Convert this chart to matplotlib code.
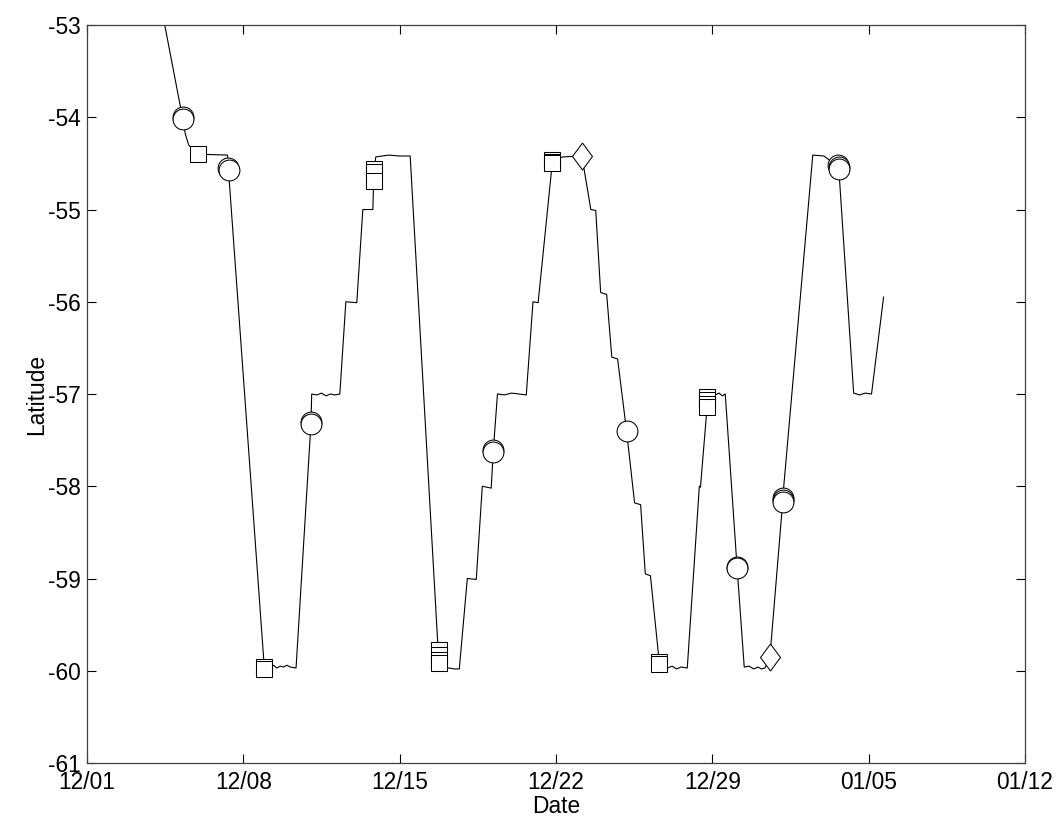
import matplotlib
matplotlib.use("Agg")
import matplotlib.pyplot as plt
import numpy as np

plt.rcParams['font.family'] = ['Liberation Sans', 'DejaVu Sans']
plt.rcParams['axes.unicode_minus'] = False

# ship track: days since 12/01 and latitude
track_day = [3.40, 4.28, 4.40, 4.55, 4.95, 6.29, 6.33, 7.94, 8.20, 8.35, 8.50, 8.65, 8.80, 8.95,
             9.10, 9.36, 10.03, 10.06, 10.30, 10.50, 10.70, 10.90, 11.10, 11.32, 11.59, 12.08,
             12.35, 12.80, 12.84, 12.93, 13.50, 14.00, 14.47, 15.74, 15.96, 16.20, 16.45, 16.67,
             17.03, 17.43, 17.70, 18.10, 18.19, 18.38, 18.70, 19.00, 19.35, 19.67, 19.97, 20.20,
             20.84, 21.30, 22.16, 22.56, 22.78, 23.00, 23.27, 23.50, 23.76, 24.16, 24.52, 24.79,
             25.00, 25.23, 25.63, 26.00, 26.20, 26.40, 26.60, 26.88, 27.42, 27.47, 27.78, 28.13,
             28.30, 28.45, 28.58, 29.11, 29.43, 29.65, 29.85, 30.05, 30.20, 30.36, 30.58, 31.16,
             31.20, 32.50, 33.00, 33.66, 34.33, 34.60, 34.85, 35.13, 35.67]
track_lat = [-52.90, -54.01, -54.18, -54.30, -54.40, -54.41, -54.56, -59.97, -59.96, -59.94,
             -59.97, -59.95, -59.96, -59.94, -59.96, -59.97, -57.31, -57.00, -57.01, -56.99,
             -57.02, -57.00, -57.01, -57.00, -56.00, -56.01, -55.00, -55.00, -54.62, -54.43,
             -54.41, -54.42, -54.42, -59.85, -59.98, -59.97, -59.98, -59.98, -59.00, -59.01,
             -58.00, -58.02, -57.62, -57.00, -57.01, -56.99, -57.00, -57.01, -56.00, -56.01,
             -54.48, -54.43, -54.42, -55.00, -55.01, -55.90, -55.92, -56.60, -56.62, -57.40,
             -58.18, -58.20, -58.95, -58.97, -59.92, -59.97, -59.95, -59.98, -59.96, -59.97,
             -58.00, -58.01, -57.10, -57.01, -56.99, -57.02, -57.00, -58.88, -59.96, -59.95,
             -59.98, -59.96, -59.98, -59.97, -59.85, -58.15, -58.00, -54.41, -54.42, -54.54,
             -56.99, -57.01, -56.99, -57.00, -55.95]

# stations by type (repeated casts at one station stack up)
circle_day = [4.28, 4.29, 6.33, 6.34, 10.03, 10.04, 18.19, 18.20, 24.16, 29.11, 29.12,
              31.16, 31.17, 31.18, 33.65, 33.66, 33.67]
circle_lat = [-54.00, -54.015, -54.55, -54.57, -57.30, -57.32, -57.61, -57.63, -57.40, -58.87,
              -58.89, -58.13, -58.15, -58.17, -54.52, -54.54, -54.56]
square_day = [4.95, 7.94, 7.94, 12.84, 12.84, 12.84, 15.74, 15.74, 15.74, 15.74, 20.84, 20.84,
              20.84, 25.63, 25.63, 27.78, 27.78, 27.78, 27.78]
square_lat = [-54.40, -59.96, -59.98, -54.56, -54.59, -54.69, -59.78, -59.83, -59.88, -59.92,
              -54.46, -54.48, -54.50, -59.90, -59.93, -57.03, -57.07, -57.11, -57.14]
diamond_day = [22.16, 30.58]
diamond_lat = [-54.42, -59.85]

tick_days = [0, 7, 14, 21, 28, 35, 42]
tick_labels = ['12/01', '12/08', '12/15', '12/22', '12/29', '01/05', '01/12']

fig = plt.figure(figsize=(10.55, 8.23), dpi=100)
ax = fig.add_axes([0.0825, 0.0729, 0.8890, 0.8967])

ax.plot(track_day, track_lat, color='k', lw=0.8, zorder=2)

mk = dict(linestyle='none', markerfacecolor='white', markeredgecolor='k',
          markeredgewidth=0.75, zorder=3)
ax.plot(circle_day, circle_lat, marker='o', markersize=15, **mk)
ax.plot(square_day, square_lat, marker='s', markersize=12.2, **mk)
diamond = [(0, 1), (0.74, 0), (0, -1), (-0.74, 0), (0, 1)]
ax.plot(diamond_day, diamond_lat, marker=diamond, markersize=19.4, **mk)

ax.set_xlim(0, 42)
ax.set_ylim(-61, -53)
ax.set_xticks(tick_days)
ax.set_xticklabels(tick_labels)
ax.set_yticks(np.arange(-61, -52, 1))

ax.tick_params(direction='in', top=True, right=True, length=6.5, width=0.8,
               labelsize=16.4, colors='k')
ax.tick_params(axis='x', pad=5.5)
ax.tick_params(axis='y', pad=4.5)
for s in ax.spines.values():
    s.set_linewidth(0.9)
    s.set_color('#404040')

ax.set_xlabel('Date', fontsize=16.4, labelpad=1)
ax.set_ylabel('Latitude', fontsize=16.4, labelpad=0)

fig.savefig('out.png', dpi=100)
